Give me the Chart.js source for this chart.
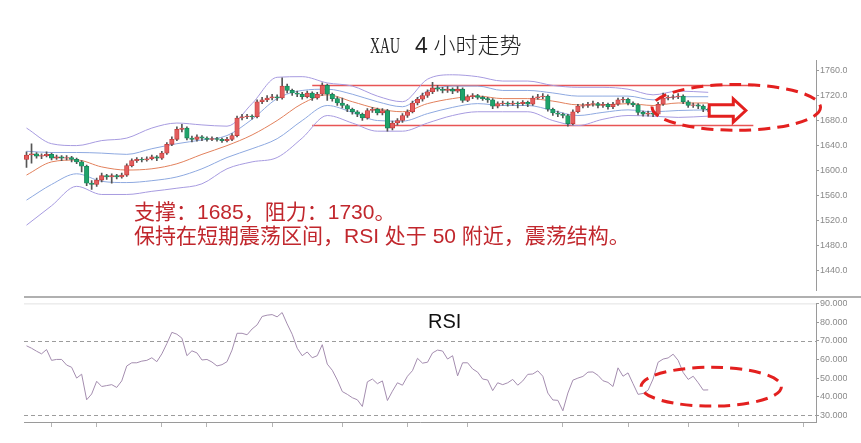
<!DOCTYPE html>
<html><head><meta charset="utf-8">
<script src="https://cdn.jsdelivr.net/npm/chart.js@4.4.1/dist/chart.umd.min.js"></script>
<style>
html,body{margin:0;padding:0;background:#fff;}
body{width:861px;height:443px;overflow:hidden;position:relative;}
canvas{position:absolute;left:0;}
#main{top:0;}
#rsi{top:297px;}
#sep{position:absolute;left:24px;top:296px;width:837px;height:1.5px;background:#b0b0b0;}
#title{position:absolute;left:370px;top:27px;display:flex;align-items:baseline;white-space:nowrap;color:#222;}
#title .xau{font-family:"Liberation Serif",serif;font-size:23px;display:inline-block;width:31px;transform:scaleX(0.6);transform-origin:left bottom;}
#title .four{font-family:"Noto Sans",sans-serif;font-size:22px;margin-left:14px;}
#title .cjk{font-family:"Noto Sans CJK SC",sans-serif;font-size:22px;margin-left:6px;font-weight:300;}
#ann{position:absolute;left:134px;top:200px;font-family:"Liberation Sans","Noto Sans CJK SC",sans-serif;font-size:21px;line-height:24px;color:#c1272d;white-space:nowrap;}
#rsilabel{position:absolute;left:428px;top:311px;font-family:"Liberation Sans",sans-serif;font-size:20px;line-height:20px;color:#111;}
</style></head><body>
<canvas id="main" width="847" height="297" style="width:847px;height:297px"></canvas>
<div id="sep"></div>
<canvas id="rsi" width="847" height="146" style="width:847px;height:146px"></canvas>
<div id="title"><span class="xau">XAU</span><span class="four">4</span><span class="cjk">小时走势</span></div>
<div id="ann">支撑：1685，阻力：1730。<br>保持在短期震荡区间，RSI 处于 50 附近，震荡结构。</div>
<div id="rsilabel">RSI</div>
<script>
// ---------- data ----------
const categories = Array.from({length: 158}, (_, i) => String(i));

const openP = [1618,1625,1627,1623,1624,1626,1620,1622,1620,1621,
1618,1614,1607,1580,1578,1585,1592,1590,1592,1590,
1593,1608,1616,1618,1617,1619,1622,1620,1628,1642,
1650,1666,1668,1652,1650,1654,1652,1650,1651,1650,
1648,1650,1656,1684,1686,1687,1686,1710,1713,1716,
1718,1716,1735,1728,1724,1722,1718,1724,1716,1722,
1736,1722,1715,1708,1704,1698,1694,1690,1684,1696,
1698,1692,1696,1668,1676,1680,1688,1694,1708,1714,
1720,1726,1732,1730,1728,1730,1727,1730,1712,1718,
1720,1717,1715,1713,1703,1707,1708,1706,1708,1707,
1709,1706,1716,1718,1719,1698,1692,1690,1688,1675,
1694,1703,1704,1706,1707,1704,1706,1702,1706,1713,
1714,1708,1705,1693,1690,1692,1690,1706,1716,1717,
1718,1719,1710,1704,1705,1703,1698];

const closeP = [1625,1627,1623,1624,1626,1620,1622,1620,1621,1618,
1614,1607,1580,1578,1585,1592,1590,1592,1590,1593,
1608,1616,1618,1617,1619,1622,1620,1628,1642,1650,
1666,1668,1652,1650,1654,1652,1650,1651,1650,1648,
1650,1656,1684,1686,1687,1686,1710,1713,1716,1718,
1716,1735,1728,1724,1722,1718,1724,1716,1722,1736,
1722,1715,1708,1704,1698,1694,1690,1684,1696,1698,
1692,1696,1668,1676,1680,1688,1694,1708,1714,1720,
1726,1732,1730,1728,1730,1727,1730,1712,1718,1720,
1717,1715,1713,1703,1707,1708,1706,1708,1707,1709,
1706,1716,1718,1719,1698,1692,1690,1688,1675,1694,
1703,1704,1706,1707,1704,1706,1702,1706,1713,1714,
1708,1705,1693,1690,1692,1690,1706,1716,1717,1718,
1719,1710,1704,1705,1703,1698,1697];

const highP = [1630,1643,1629,1627,1630,1628,1625,1624,1624,1623,
1620,1616,1609,1584,1588,1596,1594,1595,1594,1596,
1611,1619,1621,1621,1622,1625,1624,1631,1645,1654,
1670,1674,1670,1655,1657,1656,1654,1654,1653,1652,
1653,1659,1687,1690,1690,1689,1713,1717,1720,1722,
1721,1748,1738,1730,1727,1725,1727,1726,1725,1740,
1738,1724,1718,1716,1706,1700,1696,1692,1699,1701,
1700,1699,1698,1679,1683,1691,1697,1711,1717,1724,
1729,1741,1736,1733,1734,1732,1734,1732,1721,1723,
1722,1719,1717,1715,1710,1711,1710,1711,1710,1712,
1711,1719,1722,1723,1721,1700,1695,1692,1690,1697,
1706,1707,1709,1711,1709,1709,1708,1709,1716,1717,
1716,1710,1707,1695,1695,1694,1709,1724,1720,1721,
1723,1721,1712,1708,1707,1705,1700];

const lowP = [1605,1612,1620,1619,1622,1617,1618,1616,1617,1614,
1611,1598,1576,1570,1575,1582,1586,1580,1587,1588,
1591,1606,1613,1614,1615,1617,1616,1618,1626,1640,
1648,1662,1649,1646,1647,1648,1647,1648,1647,1645,
1646,1648,1654,1681,1683,1682,1684,1707,1710,1713,
1712,1714,1724,1720,1718,1714,1716,1712,1714,1720,
1712,1711,1704,1700,1694,1690,1686,1680,1682,1693,
1689,1689,1663,1665,1673,1677,1685,1692,1705,1711,
1717,1723,1727,1724,1725,1723,1725,1709,1710,1715,
1714,1712,1709,1699,1700,1704,1703,1704,1700,1704,
1702,1704,1714,1715,1695,1688,1686,1684,1671,1673,
1692,1700,1701,1703,1700,1701,1698,1699,1704,1709,
1705,1702,1689,1687,1687,1686,1688,1704,1713,1714,
1715,1707,1701,1701,1699,1694,1694];

const bandIdx    = [0,5,10,15,20,25,30,35,40,45,50,55,60,65,70,75,80,85,90,95,100,105,110,115,120,125,130,136];
const bandUpper2 = [1668,1643,1640,1648,1652,1668,1676,1673,1671,1707,1749,1750,1740,1735,1719,1710,1746,1753,1750,1743,1743,1736,1733,1733,1730,1721,1727,1725];
const bandUpper1 = [1631,1629,1629,1628,1626,1635,1643,1649,1656,1682,1715,1728,1730,1722,1710,1702,1727,1735,1735,1728,1728,1724,1719,1719,1719,1713,1718,1718];
const bandMid    = [1593,1614,1617,1606,1601,1603,1611,1626,1640,1657,1680,1707,1721,1710,1699,1694,1707,1715,1719,1715,1715,1711,1705,1705,1707,1704,1708,1708];
const bandLower1 = [1553,1578,1595,1583,1581,1584,1590,1603,1621,1635,1651,1680,1704,1693,1680,1679,1691,1701,1707,1704,1704,1696,1688,1693,1697,1694,1696,1697];
const bandLower2 = [1513,1544,1575,1562,1562,1567,1572,1579,1603,1614,1621,1652,1688,1676,1663,1663,1676,1688,1694,1694,1694,1680,1672,1682,1688,1687,1685,1687];

const levelValues = [1736, 1672];
const levelRange  = [57, 145];

const rsiValues = [67.3,66,64.4,63,65.3,59.5,60,60,57,55.8,
50,52.1,38.4,41.5,48.3,45.5,46,46.5,45,48.5,
56.5,58.2,58.2,59.1,59.5,60.9,58.8,63,68.5,74.5,
73.5,71.4,62,64.6,63.5,59.7,60,58.6,56.5,57.2,
58.8,65,74,74,73.2,76.3,78.5,83,83.7,84,
82.8,85.1,79,73.5,66,62,64,60.9,62,67.9,
57.5,54.2,49,42.8,41.3,39.5,38.4,34.8,48,49.5,
47,48.5,38,43,47.5,46.2,51,54,60.6,58,
58.5,63.5,65,64.5,60.2,62,51.2,58.2,58.2,54.9,
53.2,49.5,49,43.3,47.5,46.5,47.5,49.3,46.2,48.5,
52,52.2,53.9,51,42,38.3,38.1,32.5,42,48.9,
50,50.9,53.2,53.3,51.5,48.6,47.7,45.5,55.5,51,
52.8,47,41.3,41.8,43.5,49.5,58.5,60.2,60.8,62.8,
59.5,53,49.3,51,47.5,43.6,43.7];
const rsiLevels = [70, 30];

const priceTicks = [1440,1480,1520,1560,1600,1640,1680,1720,1760];
const rsiTicks = [30,40,50,60,70,80,90];
const dateTickIdx = [5,14,27,36,49,63,76,88,107,120,132,142,155];

// annotation shapes in data units (index, value)
const mainEllipse = {cx:141.6, cy:1701, rx:16.8, ry:36.5};
const mainArrow = {x0:136.2, xb:141.0, xt:143.5, yc:1696, sh:9.3, hh:18.6};
const rsiEllipse = {cx:136.6, cy:45.4, rx:14.0, ry:10.4};

// ---------- build ----------
Chart.defaults.font.family = '"Liberation Sans", Arial, sans-serif';
const UP_FILL='#e35d5d', UP_LINE='#c23b3b', DN_FILL='#1fa36a', DN_LINE='#17835a';
const bodies = closeP.map((c,i)=>[Math.min(openP[i],c), Math.max(openP[i],c)]);
const wicks = highP.map((h,i)=>[lowP[i], h]);
const isUp = closeP.map((c,i)=>c>=openP[i]);
const pts = arr => bandIdx.map((k,j)=>({x:categories[k], y:arr[j]}));
const bandDs = (arr,color) => ({type:'line', data:pts(arr), borderColor:color, backgroundColor:color, borderWidth:1, pointRadius:0, fill:false, cubicInterpolationMode:'monotone', order:3});
const levelDs = v => ({type:'line', data:[{x:categories[levelRange[0]], y:v},{x:categories[levelRange[1]], y:v}], borderColor:'#e85555', backgroundColor:'#e85555', borderWidth:1.4, pointRadius:0, fill:false, order:4});

const RED='#e3201f';
const mainMarks = {
  id:'mainMarks',
  afterDraw(chart){
    const {ctx, scales:{x,y}} = chart;
    ctx.save();
    const e = mainEllipse;
    const cx = x.getPixelForValue(e.cx), cy = y.getPixelForValue(e.cy);
    const rx = x.getPixelForValue(e.cx+e.rx)-cx, ry = cy - y.getPixelForValue(e.cy+e.ry);
    ctx.strokeStyle = RED; ctx.lineWidth = 3; ctx.setLineDash([12,7]);
    ctx.beginPath(); ctx.ellipse(cx, cy, rx, ry, 0, 0, Math.PI*2); ctx.stroke();
    const a = mainArrow;
    const x0=x.getPixelForValue(a.x0), xb=x.getPixelForValue(a.xb), xt=x.getPixelForValue(a.xt), yc=y.getPixelForValue(a.yc);
    const sh = yc - y.getPixelForValue(a.yc+a.sh), hh = yc - y.getPixelForValue(a.yc+a.hh);
    ctx.setLineDash([]); ctx.lineJoin='miter'; ctx.lineWidth=3;
    ctx.beginPath();
    ctx.moveTo(x0,yc-sh); ctx.lineTo(xb,yc-sh); ctx.lineTo(xb,yc-hh); ctx.lineTo(xt,yc);
    ctx.lineTo(xb,yc+hh); ctx.lineTo(xb,yc+sh); ctx.lineTo(x0,yc+sh); ctx.closePath();
    ctx.fillStyle='#fff'; ctx.fill(); ctx.stroke();
    ctx.restore();
  }
};

new Chart(document.getElementById('main'), {
  type:'bar',
  data:{
    labels: categories,
    datasets:[
      {type:'bar', data:bodies, backgroundColor:isUp.map(u=>u?UP_FILL:DN_FILL), borderColor:isUp.map(u=>u?UP_LINE:DN_LINE), borderWidth:0.8, borderSkipped:false, barThickness:4.5, grouped:false, order:0},
      {type:'bar', data:wicks, backgroundColor:'#555', barThickness:1, grouped:false, order:1},
      bandDs(bandUpper2,'#a79be0'),
      bandDs(bandUpper1,'#8ea9e0'),
      bandDs(bandMid,'#e2805c'),
      bandDs(bandLower1,'#8ea9e0'),
      bandDs(bandLower2,'#a79be0'),
      levelDs(levelValues[0]),
      levelDs(levelValues[1])
    ]
  },
  options:{
    responsive:false, animation:false, devicePixelRatio:1, events:[],
    layout:{padding:{left:24, top:60, right:0, bottom:0}},
    plugins:{legend:{display:false}, tooltip:{enabled:false}},
    scales:{
      x:{display:false, offset:true},
      y:{position:'right', min:1408.6, max:1776.6,
         afterBuildTicks:s=>{s.ticks = priceTicks.map(v=>({value:v}));},
         afterFit:s=>{s.width = 31;},
         grid:{drawOnChartArea:false, tickLength:3, color:'#999'},
         border:{display:true, color:'#9a9a9a'},
         ticks:{font:{size:9}, color:'#8a8a8a', padding:1, callback:v=>Number(v).toFixed(2)}}
    }
  },
  plugins:[mainMarks]
});

const rsiMarks = {
  id:'rsiMarks',
  beforeDatasetsDraw(chart){
    const {ctx, chartArea:ca, scales:{y}} = chart;
    ctx.save();
    ctx.strokeStyle='#e2e2e2'; ctx.lineWidth=1;
    ctx.beginPath(); ctx.moveTo(ca.left, ca.top+0.5); ctx.lineTo(ca.right, ca.top+0.5); ctx.stroke();
    ctx.strokeStyle='#9c9c9c'; ctx.setLineDash([4,3]);
    rsiLevels.forEach(v=>{ const py=Math.round(y.getPixelForValue(v))+0.5; ctx.beginPath(); ctx.moveTo(ca.left,py); ctx.lineTo(ca.right,py); ctx.stroke(); });
    ctx.restore();
  },
  afterDraw(chart){
    const {ctx, scales:{x,y}} = chart;
    const e = rsiEllipse;
    const cx = x.getPixelForValue(e.cx), cy = y.getPixelForValue(e.cy);
    const rx = x.getPixelForValue(e.cx+e.rx)-cx, ry = cy - y.getPixelForValue(e.cy+e.ry);
    ctx.save();
    ctx.strokeStyle = RED; ctx.lineWidth = 3; ctx.setLineDash([12,7]);
    ctx.beginPath(); ctx.ellipse(cx, cy, rx, ry, 0, 0, Math.PI*2); ctx.stroke();
    ctx.restore();
  }
};

new Chart(document.getElementById('rsi'), {
  type:'line',
  data:{labels:categories, datasets:[{data:rsiValues, borderColor:'#a48daf', borderWidth:1, pointRadius:0, fill:false, tension:0}]},
  options:{
    responsive:false, animation:false, devicePixelRatio:1, events:[],
    layout:{padding:{left:24, top:4, right:0, bottom:0}},
    plugins:{legend:{display:false}, tooltip:{enabled:false}},
    scales:{
      x:{offset:true,
         afterBuildTicks:s=>{s.ticks = dateTickIdx.map(v=>({value:v}));},
         afterFit:s=>{s.height = 21;},
         grid:{display:true, drawOnChartArea:false, tickLength:5, color:'#b5b5b5', offset:false},
         border:{display:true, color:'#9a9a9a'},
         ticks:{display:false, autoSkip:false}},
      y:{position:'right', min:26.5, max:90,
         afterBuildTicks:s=>{s.ticks = rsiTicks.map(v=>({value:v}));},
         afterFit:s=>{s.width = 31;},
         grid:{drawOnChartArea:false, tickLength:3, color:'#999'},
         border:{display:true, color:'#9a9a9a'},
         ticks:{font:{size:9}, color:'#8a8a8a', padding:1, callback:v=>Number(v).toFixed(4)}}
    }
  },
  plugins:[rsiMarks]
});
</script>
</body></html>
